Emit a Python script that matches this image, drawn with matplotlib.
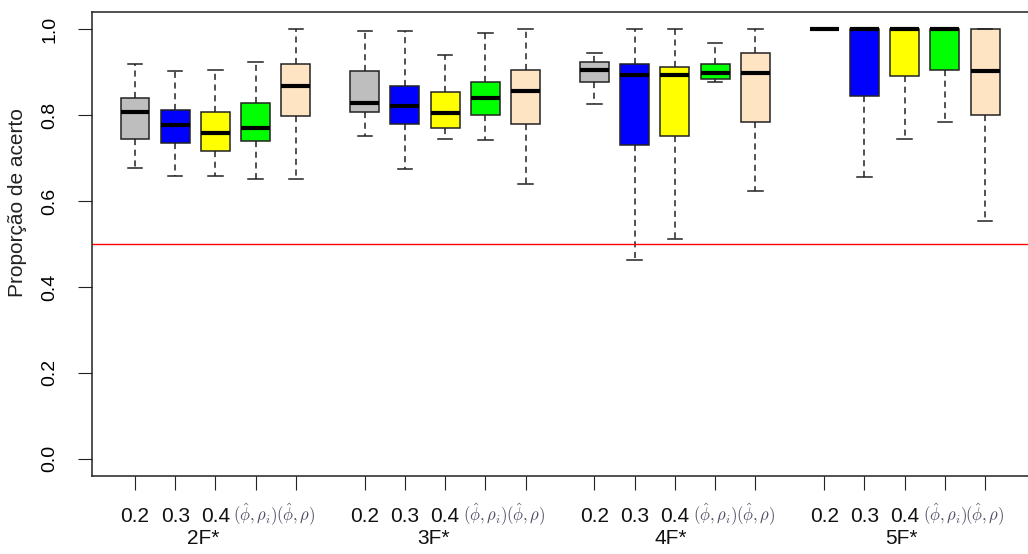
# boxplots of hit proportion by number of factors and method
import matplotlib
matplotlib.use("Agg")
import matplotlib.pyplot as plt
import matplotlib.transforms as mtransforms

plt.rcParams['font.family'] = 'Liberation Sans'
plt.rcParams['mathtext.fontset'] = 'cm'

groups = ['2F*', '3F*', '4F*', '5F*']
methods = ['0.2', '0.3', '0.4', r'$(\hat{\phi},\rho_i)$', r'$(\hat{\phi},\rho)$']
colors = ['#bebebe', '#0000ff', '#ffff00', '#00ff00', '#ffe4c4']

# five-number summaries (rows = groups, cols = methods)
whis_low = [[0.678, 0.658, 0.658, 0.651, 0.651],
            [0.752, 0.674, 0.745, 0.741, 0.640],
            [0.825, 0.462, 0.511, 0.877, 0.623],
            [1.000, 0.657, 0.745, 0.783, 0.553]]
q1 = [[0.745, 0.734, 0.716, 0.740, 0.797],
      [0.808, 0.779, 0.769, 0.800, 0.779],
      [0.877, 0.731, 0.752, 0.884, 0.783],
      [1.000, 0.845, 0.891, 0.905, 0.800]]
med = [[0.808, 0.776, 0.759, 0.770, 0.867],
       [0.829, 0.822, 0.804, 0.839, 0.857],
       [0.905, 0.894, 0.894, 0.898, 0.898],
       [1.000, 1.000, 1.000, 1.000, 0.902]]
q3 = [[0.840, 0.812, 0.807, 0.828, 0.919],
      [0.902, 0.867, 0.853, 0.878, 0.905],
      [0.923, 0.919, 0.912, 0.919, 0.944],
      [1.000, 1.000, 1.000, 1.000, 1.000]]
whis_high = [[0.920, 0.903, 0.905, 0.923, 1.000],
             [0.996, 0.996, 0.940, 0.990, 1.000],
             [0.944, 1.000, 1.000, 0.968, 1.000],
             [1.000, 1.000, 1.000, 1.000, 1.000]]

group_step = 5.714
label_shift = [1.69, 1.72, 1.89, 1.92]

stats, pos, cols = [], [], []
for g in range(len(groups)):
    for i in range(len(methods)):
        stats.append(dict(med=med[g][i], q1=q1[g][i], q3=q3[g][i],
                          whislo=whis_low[g][i], whishi=whis_high[g][i],
                          fliers=[]))
        pos.append(g * group_step + i)
        cols.append(colors[i])

fig = plt.figure(figsize=(10.28, 5.54), dpi=100)
ax = fig.add_axes([92 / 1028, 1 - 476 / 554, 938 / 1028, 464 / 554])

ec = '#222222'
bp = ax.bxp(stats, positions=pos, widths=0.72, patch_artist=True,
            showfliers=False, capwidths=0.36,
            boxprops=dict(edgecolor=ec, linewidth=1.1),
            medianprops=dict(color='black', linewidth=3, solid_capstyle='butt'),
            whiskerprops=dict(color=ec, linewidth=1.1, linestyle=(0, (4, 3))),
            capprops=dict(color=ec, linewidth=1.1))
for box, c in zip(bp['boxes'], cols):
    box.set_facecolor(c)

ax.axhline(0.5, color='red', linewidth=1)

ax.set_xlim(-1.07, -1.07 + 23.33)
ax.set_ylim(-0.04, 1.04)

yt = [0.0, 0.2, 0.4, 0.6, 0.8, 1.0]
ax.set_yticks(yt)
ax.set_yticklabels(['%.1f' % v for v in yt], rotation=90, va='center',
                   fontsize=14)
ax.tick_params(axis='y', length=10, pad=14, color=ec)
ax.set_xticks(pos)
ax.set_xticklabels([''] * len(pos))
ax.tick_params(axis='x', length=10, color=ec)
for s in ax.spines.values():
    s.set_color(ec)
    s.set_linewidth(1.1)

trans = mtransforms.blended_transform_factory(ax.transData, fig.transFigure)
for p, i in zip(pos, [k % 5 for k in range(len(pos))]):
    if i < 3:
        ax.text(p, 1 - 517 / 554, methods[i], transform=trans, ha='center',
                va='center', fontsize=15, color='#111111')
    else:
        ax.text(p, 1 - 515 / 554, methods[i], transform=trans, ha='center',
                va='center', fontsize=12, color='#4d4d66')
for g, name in enumerate(groups):
    ax.text(g * group_step + label_shift[g], 1 - 539 / 554, name,
            transform=trans, ha='center', va='center', fontsize=15,
            color='#111111')

fig.text(18 / 1028, 1 - 203 / 554, 'Proporção de acerto', rotation=90,
         ha='center', va='center', fontsize=15, color='#222222')

fig.savefig('out.png', dpi=100)
